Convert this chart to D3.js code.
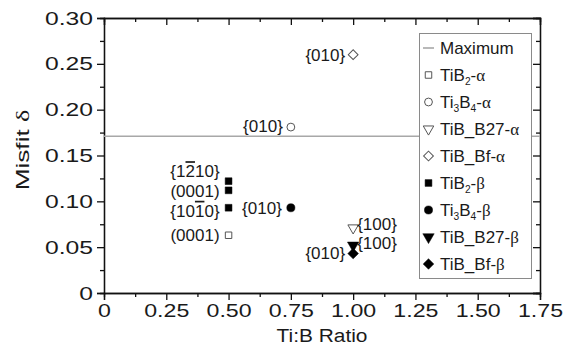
<!DOCTYPE html>
<html>
<head>
<meta charset="utf-8">
<script src="https://cdn.jsdelivr.net/npm/d3@7"></script>
<style>
  body { margin: 0; background: #fff; }
  text { font-family: "Liberation Sans", Arial, sans-serif; fill: #1a1a1a; }
  .greek { font-family: "Liberation Serif", serif; }
</style>
</head>
<body>
<svg id="chart" width="573" height="358"></svg>
<script>
// values
const seriesNames = ["TiB2-α", "Ti3B4-α", "TiB_B27-α", "TiB_Bf-α", "TiB2-β", "Ti3B4-β", "TiB_B27-β", "TiB_Bf-β"]
const seriesRatio = [[0.5], [0.75], [1.0], [1.0], [0.5, 0.5, 0.5], [0.75], [1.0], [1.0]]
const seriesMisfit = [[0.063], [0.181], [0.071], [0.26], [0.122, 0.112, 0.093], [0.093], [0.052], [0.043]]
const maxMisfit = 0.171
const xTicks = [0, 0.25, 0.5, 0.75, 1.0, 1.25, 1.5, 1.75]
const yTicks = [0, 0.05, 0.1, 0.15, 0.2, 0.25, 0.3]
// legend label pieces: [text, kind]
const legendLabels = [
    [["Maximum", ""]],
    [["TiB", ""], ["2", "sub"], ["-", ""], ["α", "greek"]],
    [["Ti", ""], ["3", "sub"], ["B", ""], ["4", "sub"], ["-", ""], ["α", "greek"]],
    [["TiB_B27-", ""], ["α", "greek"]],
    [["TiB_Bf-", ""], ["α", "greek"]],
    [["TiB", ""], ["2", "sub"], ["-", ""], ["β", "greek"]],
    [["Ti", ""], ["3", "sub"], ["B", ""], ["4", "sub"], ["-", ""], ["β", "greek"]],
    [["TiB_B27-", ""], ["β", "greek"]],
    [["TiB_Bf-", ""], ["β", "greek"]]
]
// point labels: series, point, pieces
const annoSeries = [3, 1, 4, 4, 4, 0, 5, 7, 2, 6]
const annoPoint = [0, 0, 0, 1, 2, 0, 0, 0, 0, 0]
const annoText = [
    [["{010}", ""]],
    [["{010}", ""]],
    [["{1", ""], ["2", "bar"], ["10}", ""]],
    [["(0001)", ""]],
    [["{10", ""], ["1", "bar"], ["0}", ""]],
    [["(0001)", ""]],
    [["{010}", ""]],
    [["{010}", ""]],
    [["{100}", ""]],
    [["{100}", ""]]
]

const svg = d3.select("#chart")
const padL = 104, padR = 540, padT = 18, padB = 293

const x = d3.scaleLinear().domain([0, 1.75]).range([padL, padR])
const y = d3.scaleLinear().domain([0, 0.3]).range([padB, padT])

const fmt = d => d === 0 ? "0" : d3.format(".2f")(d)

// minor ticks
const xMinor = d3.range(0.125, 1.75, 0.25)
const yMinor = d3.range(0.025, 0.3, 0.05)

function styleAxis(g) {
    g.selectAll("path").attr("stroke", "#111").attr("stroke-width", 1.3)
    g.selectAll("line").attr("stroke", "#111").attr("stroke-width", 1.3)
    g.selectAll("text").attr("font-size", 19).attr("fill", "#1a1a1a")
}

// bottom axis
svg.append("g").attr("transform", `translate(0,${padB})`)
    .call(d3.axisBottom(x).tickValues(xTicks).tickFormat(fmt).tickSizeOuter(0).tickSize(7).tickPadding(4))
    .call(styleAxis)
    .selectAll("text").attr("transform", "scale(1.22,1)")
svg.append("g").attr("transform", `translate(0,${padB})`)
    .call(d3.axisBottom(x).tickValues(xMinor).tickFormat("").tickSizeOuter(0).tickSize(4))
    .call(styleAxis)
// left axis
svg.append("g").attr("transform", `translate(${padL},0)`)
    .call(d3.axisLeft(y).tickValues(yTicks).tickFormat(fmt).tickSizeOuter(0).tickSize(7).tickPadding(4))
    .call(styleAxis)
    .selectAll("text").attr("x", -11 / 1.3).attr("transform", "scale(1.3,1)")
svg.append("g").attr("transform", `translate(${padL},0)`)
    .call(d3.axisLeft(y).tickValues(yMinor).tickFormat("").tickSizeOuter(0).tickSize(4))
    .call(styleAxis)
// top & right mirrors, ticks inward
svg.append("g").attr("transform", `translate(0,${padT})`)
    .call(d3.axisTop(x).tickValues(xTicks).tickFormat("").tickSizeOuter(0).tickSize(-7))
    .call(styleAxis)
svg.append("g").attr("transform", `translate(0,${padT})`)
    .call(d3.axisTop(x).tickValues(xMinor).tickFormat("").tickSizeOuter(0).tickSize(-4))
    .call(styleAxis)
svg.append("g").attr("transform", `translate(${padR},0)`)
    .call(d3.axisRight(y).tickValues(yTicks).tickFormat("").tickSizeOuter(0).tickSize(-7))
    .call(styleAxis)
svg.append("g").attr("transform", `translate(${padR},0)`)
    .call(d3.axisRight(y).tickValues(yMinor).tickFormat("").tickSizeOuter(0).tickSize(-4))
    .call(styleAxis)

// axis titles
svg.append("text")
    .attr("transform", `translate(${(padL + padR) / 2},342) scale(1.1,1)`)
    .attr("text-anchor", "middle").attr("font-size", 19)
    .text("Ti:B Ratio")
const yt = svg.append("text")
    .attr("transform", `translate(29,150) rotate(-90) scale(1.38,1)`)
    .attr("text-anchor", "middle").attr("font-size", 19)
yt.append("tspan").text("Misfit ")
yt.append("tspan").attr("class", "greek").text("δ")

// maximum line
svg.append("line")
    .attr("x1", padL).attr("x2", padR)
    .attr("y1", y(maxMisfit)).attr("y2", y(maxMisfit))
    .attr("stroke", "#a8a8a8").attr("stroke-width", 1.6)

// symbols
const shapes = [
    { type: d3.symbolSquare, size: 42, rot: 0, fill: false },
    { type: d3.symbolCircle, size: 48, rot: 0, fill: false },
    { type: d3.symbolTriangle, size: 48, rot: 180, fill: false },
    { type: d3.symbolSquare, size: 48, rot: 45, fill: false },
    { type: d3.symbolSquare, size: 46, rot: 0, fill: true },
    { type: d3.symbolCircle, size: 52, rot: 0, fill: true },
    { type: d3.symbolTriangle, size: 56, rot: 180, fill: true },
    { type: d3.symbolSquare, size: 56, rot: 45, fill: true }
]

function drawSymbol(g, s, cx, cy) {
    g.append("path")
        .attr("d", d3.symbol().type(s.type).size(s.size)())
        .attr("transform", `translate(${cx},${cy}) rotate(${s.rot})`)
        .attr("fill", s.fill ? "#000" : "none")
        .attr("stroke", s.fill ? "#000" : "#555")
        .attr("stroke-width", s.fill ? 0.5 : 1)
}

const pts = svg.append("g")
seriesNames.forEach(function (name, i) {
    seriesRatio[i].forEach(function (r, j) {
        drawSymbol(pts, shapes[i], x(r), y(seriesMisfit[i][j]))
    })
})

function writePieces(t, pieces, size) {
    pieces.forEach(function (p) {
        let ts = t.append("tspan").text(p[0])
        if (p[1] == "sub") {
            ts.attr("font-size", size * 0.6).attr("baseline-shift", "-38%")
        } else if (p[1] == "greek") {
            ts.attr("class", "greek")
        } else if (p[1] == "bar") {
            ts.style("text-decoration", "overline")
        }
    })
}

// point labels
const annoDx = [-8, -8, -9, -9, -9, -9, -9, -8, 4, 4]
const annoDy = [6, 5, -4, 7, 9, 6, 6, 5, 2, 4]
const annoAnchor = ["end", "end", "end", "end", "end", "end", "end", "end", "start", "start"]
annoText.forEach(function (pieces, k) {
    let s = annoSeries[k], p = annoPoint[k]
    let t = svg.append("text")
        .attr("x", x(seriesRatio[s][p]) + annoDx[k])
        .attr("y", y(seriesMisfit[s][p]) + annoDy[k])
        .attr("text-anchor", annoAnchor[k])
        .attr("font-size", 17)
    writePieces(t, pieces, 17)
})

// legend
const lg = svg.append("g")
lg.append("rect")
    .attr("x", 419.5).attr("y", 33.5).attr("width", 112).attr("height", 245)
    .attr("fill", "#fff").attr("stroke", "#8a8a8a").attr("stroke-width", 1)
legendLabels.forEach(function (pieces, i) {
    let cy = 48 + i * 27
    if (i == 0) {
        lg.append("line").attr("x1", 423).attr("x2", 434).attr("y1", cy).attr("y2", cy)
            .attr("stroke", "#a8a8a8").attr("stroke-width", 1.6)
    } else {
        drawSymbol(lg, shapes[i - 1], 428.5, cy)
    }
    let t = lg.append("text").attr("x", 440).attr("y", cy + 6).attr("font-size", 17)
    writePieces(t, pieces, 17)
})
</script>
</body>
</html>
